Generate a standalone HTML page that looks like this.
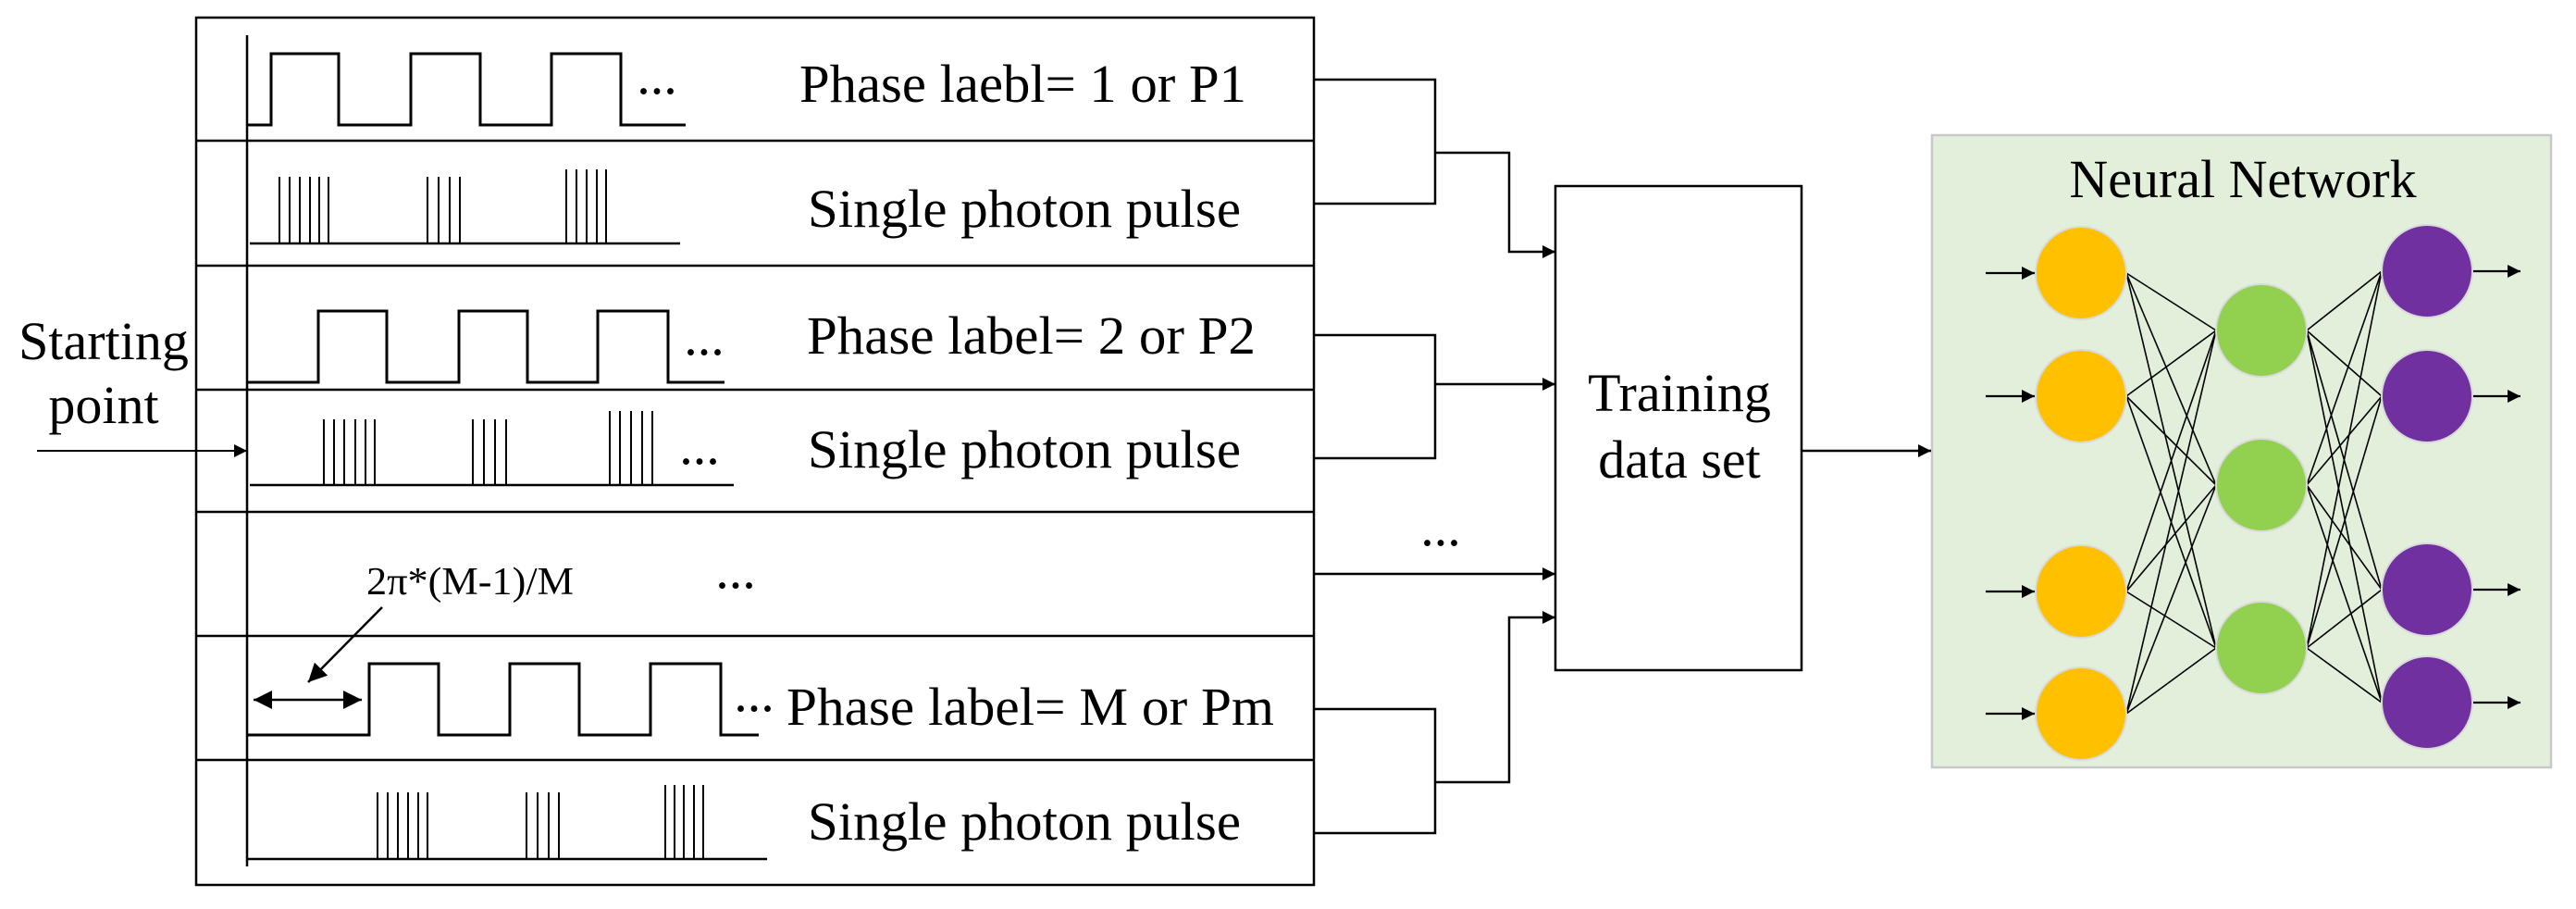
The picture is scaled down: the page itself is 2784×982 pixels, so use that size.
<!DOCTYPE html>
<html><head><meta charset="utf-8"><style>html,body{margin:0;padding:0;background:#fff}svg{display:block}text{font-family:"Liberation Serif","Times New Roman",serif}</style></head>
<body>
<svg width="2784" height="982" viewBox="0 0 2784 982" xmlns="http://www.w3.org/2000/svg" style="font-family:'Liberation Serif',serif">
<defs>
<marker id="ab" viewBox="0 0 10 10" refX="10" refY="5" markerWidth="24" markerHeight="20" markerUnits="userSpaceOnUse" orient="auto-start-reverse"><path d="M0,0 L10,5 L0,10z" fill="#000"/></marker>
<marker id="as" viewBox="0 0 10 10" refX="10" refY="5" markerWidth="18" markerHeight="14" markerUnits="userSpaceOnUse" orient="auto"><path d="M0,0 L10,5 L0,10z" fill="#000"/></marker>
</defs>
<rect x="2088" y="146" width="669" height="683" fill="#e2efda" stroke="#c8c8c8" stroke-width="2.5"/>
<g fill="none" stroke="#000" stroke-width="2.5">
<rect x="212" y="19" width="1208" height="937"/>
<line x1="212" y1="152" x2="1420" y2="152"/>
<line x1="212" y1="287" x2="1420" y2="287"/>
<line x1="212" y1="421" x2="1420" y2="421"/>
<line x1="212" y1="553" x2="1420" y2="553"/>
<line x1="212" y1="687" x2="1420" y2="687"/>
<line x1="212" y1="821" x2="1420" y2="821"/>
<line x1="267" y1="38" x2="267" y2="936"/>
<polyline stroke-width="3" points="267,135 293,135 293,58 366,58 366,135 444,135 444,58 519,58 519,135 596,135 596,58 671,58 671,135 741,135"/>
<polyline stroke-width="3" points="267,413 344,413 344,336 418,336 418,413 496,413 496,336 570,336 570,413 646,413 646,336 722,336 722,413 783,413"/>
<polyline stroke-width="3" points="267,794 399,794 399,717 474,717 474,794 551,794 551,717 626,717 626,794 703,794 703,717 779,717 779,794 820,794"/>
<line x1="270" y1="263" x2="735" y2="263"/>
<line x1="270" y1="524" x2="793" y2="524"/>
<line x1="267" y1="928" x2="829" y2="928"/>
</g>
<g stroke="#000" stroke-width="2">
<path d="M302 263V191M313 263V191M324 263V191M335 263V191M345 263V191M355 263V191M462 263V191M474 263V191M486 263V191M497 263V191M612 263V183M623 263V183M634 263V183M645 263V183M655 263V183"/>
<path d="M350 524V453M361 524V453M372 524V453M384 524V453M395 524V453M405 524V453M511 524V453M523 524V453M535 524V453M547 524V453M659 524V444M670 524V444M682 524V444M694 524V444M705 524V444"/>
<path d="M408 928V856M419 928V856M430 928V856M441 928V856M452 928V856M462 928V856M569 928V856M581 928V856M593 928V856M604 928V856M719 928V848M729 928V848M739 928V848M750 928V848M760 928V848"/>
<line x1="40" y1="487" x2="267" y2="487" marker-end="url(#as)"/>
<line x1="413" y1="656" x2="333" y2="737" marker-end="url(#ab)" stroke-width="2.5"/>
<line x1="274" y1="756" x2="391" y2="756" marker-start="url(#ab)" marker-end="url(#ab)" stroke-width="2.5"/>
</g>
<g font-size="58" fill="#000">
<text x="864" y="110" textLength="483" lengthAdjust="spacingAndGlyphs">Phase laebl= 1 or P1</text>
<text x="873" y="245" textLength="468" lengthAdjust="spacingAndGlyphs">Single photon pulse</text>
<text x="872" y="382" textLength="485" lengthAdjust="spacingAndGlyphs">Phase label= 2 or P2</text>
<text x="873" y="505" textLength="468" lengthAdjust="spacingAndGlyphs">Single photon pulse</text>
<text x="850" y="783" textLength="527" lengthAdjust="spacingAndGlyphs">Phase label= M or Pm</text>
<text x="873" y="907" textLength="468" lengthAdjust="spacingAndGlyphs">Single photon pulse</text>
<text x="112" y="388" text-anchor="middle">Starting</text>
<text x="112" y="457" text-anchor="middle">point</text>
<text x="1815" y="444" text-anchor="middle">Training</text>
<text x="1815" y="516" text-anchor="middle">data set</text>
<text x="2424" y="213" text-anchor="middle">Neural Network</text>
<text x="710" y="101" text-anchor="middle">...</text>
<text x="761" y="383" text-anchor="middle">...</text>
<text x="756" y="501" text-anchor="middle">...</text>
<text x="795" y="635" text-anchor="middle">...</text>
<text x="815" y="768" text-anchor="middle">...</text>
<text x="1557" y="589" text-anchor="middle">...</text>
</g>
<text x="396" y="642" font-size="42" textLength="224" lengthAdjust="spacingAndGlyphs">2π*(M-1)/M</text>
<g fill="none" stroke="#000" stroke-width="2.5">
<polyline points="1420,86 1551,86 1551,220 1420,220"/>
<polyline points="1551,165 1631,165 1631,272 1681,272" marker-end="url(#as)"/>
<polyline points="1420,362 1551,362 1551,495 1420,495"/>
<line x1="1551" y1="415" x2="1681" y2="415" marker-end="url(#as)"/>
<line x1="1420" y1="620" x2="1681" y2="620" marker-end="url(#as)"/>
<polyline points="1420,766 1551,766 1551,900 1420,900"/>
<polyline points="1551,845 1631,845 1631,667 1681,667" marker-end="url(#as)"/>
<rect x="1681" y="201" width="266" height="523"/>
<line x1="1947" y1="487" x2="2087" y2="487" marker-end="url(#as)"/>
</g>
<g stroke="#000" stroke-width="1.6">
<path d="M2298 295L2395 357M2298 295L2395 524M2298 295L2395 700M2298 428L2395 357M2298 428L2395 524M2298 428L2395 700M2298 639L2395 357M2298 639L2395 524M2298 639L2395 700M2298 771L2395 357M2298 771L2395 524M2298 771L2395 700"/>
<path d="M2493 357L2574 293M2493 357L2574 428M2493 357L2574 637M2493 357L2574 759M2493 524L2574 293M2493 524L2574 428M2493 524L2574 637M2493 524L2574 759M2493 700L2574 293M2493 700L2574 428M2493 700L2574 637M2493 700L2574 759"/>
<g stroke-width="2.2">
<line x1="2146" y1="295" x2="2199" y2="295" marker-end="url(#as)"/>
<line x1="2146" y1="428" x2="2199" y2="428" marker-end="url(#as)"/>
<line x1="2146" y1="639" x2="2199" y2="639" marker-end="url(#as)"/>
<line x1="2146" y1="771" x2="2199" y2="771" marker-end="url(#as)"/>
<line x1="2671" y1="293" x2="2724" y2="293" marker-end="url(#as)"/>
<line x1="2671" y1="428" x2="2724" y2="428" marker-end="url(#as)"/>
<line x1="2671" y1="637" x2="2724" y2="637" marker-end="url(#as)"/>
<line x1="2671" y1="759" x2="2724" y2="759" marker-end="url(#as)"/>
</g>
</g>
<g stroke="#d9d9d9" stroke-width="2">
<ellipse cx="2249" cy="295" rx="49" ry="50" fill="#ffc000"/>
<ellipse cx="2249" cy="428" rx="49" ry="50" fill="#ffc000"/>
<ellipse cx="2249" cy="639" rx="49" ry="50" fill="#ffc000"/>
<ellipse cx="2249" cy="771" rx="49" ry="50" fill="#ffc000"/>
<ellipse cx="2444" cy="357" rx="49" ry="50" fill="#92d050"/>
<ellipse cx="2444" cy="524" rx="49" ry="50" fill="#92d050"/>
<ellipse cx="2444" cy="700" rx="49" ry="50" fill="#92d050"/>
<ellipse cx="2623" cy="293" rx="49" ry="50" fill="#7030a0"/>
<ellipse cx="2623" cy="428" rx="49" ry="50" fill="#7030a0"/>
<ellipse cx="2623" cy="637" rx="49" ry="50" fill="#7030a0"/>
<ellipse cx="2623" cy="759" rx="49" ry="50" fill="#7030a0"/>
</g>
</svg>
</body></html>
